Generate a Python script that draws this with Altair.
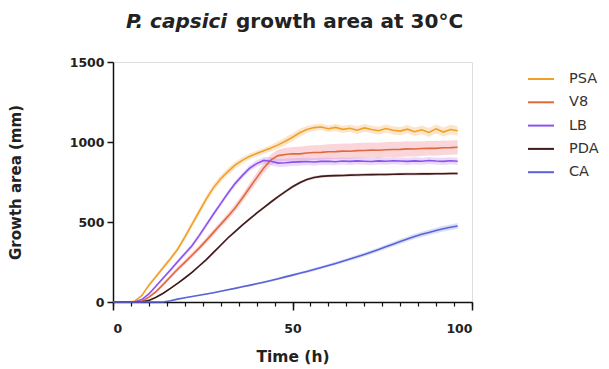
import altair as alt
import pandas as pd

hours = [0, 2, 4, 6, 8, 10, 12, 14, 16, 18, 20, 22, 24, 26, 28, 30, 32, 34, 36, 38,
         40, 42, 44, 46, 48, 50, 52, 54, 56, 58, 60, 62, 64, 66, 68, 70, 72, 74, 76, 78,
         80, 82, 84, 86, 88, 90, 92, 94, 96]

psa = [0, 0, 0, 5, 40, 105, 160, 215, 270, 330, 405, 485, 565, 645, 715, 770, 815, 855, 885, 910,
       928, 945, 962, 982, 1005, 1030, 1058, 1078, 1090, 1094, 1083, 1091, 1079, 1086, 1074, 1088, 1078, 1070, 1084, 1073,
       1068, 1080, 1064, 1076, 1060, 1082, 1062, 1078, 1070]
v8 = [0, 0, 0, 0, 5, 30, 65, 110, 158, 205, 248, 292, 337, 385, 435, 485, 535, 588, 648, 712,
      776, 838, 888, 915, 922, 927, 926, 931, 934, 935, 939, 940, 943, 942, 946, 947, 949, 948, 952, 953,
      954, 957, 956, 959, 961, 960, 964, 965, 967]
lb = [0, 0, 0, 0, 15, 50, 100, 150, 200, 252, 302, 352, 415, 482, 550, 615, 680, 740, 790, 835,
      865, 885, 880, 868, 870, 874, 876, 878, 875, 879, 880, 877, 881, 879, 882, 880, 878, 882, 880, 883,
      881, 879, 882, 880, 884, 881, 879, 883, 880]
pda = [0, 0, 0, 0, 0, 10, 30, 55, 85, 117, 150, 185, 225, 265, 310, 355, 400, 440, 480, 518,
       555, 590, 625, 658, 690, 720, 745, 765, 778, 785, 788, 790, 791, 793, 794, 795, 796, 797, 797, 798,
       799, 800, 800, 801, 801, 802, 802, 803, 803]
ca = [0, 0, 0, 0, 0, 0, 0, 0, 8, 18, 27, 34, 42, 50, 58, 67, 76, 85, 95, 104,
      114, 124, 134, 145, 157, 168, 180, 191, 203, 215, 228, 241, 255, 269, 283, 297, 312, 328, 345, 361,
      378, 394, 410, 423, 435, 447, 458, 467, 475]

psa_sd = [0, 0, 0, 2, 6, 10, 12, 14, 15, 16, 18, 20, 22, 22, 22, 22, 22, 22, 20, 18,
          18, 18, 20, 22, 25, 25, 25, 22, 20, 20, 20, 22, 22, 22, 24, 24, 24, 25, 25, 26,
          26, 26, 27, 27, 28, 28, 28, 30, 30]
v8_sd = [0, 0, 0, 0, 4, 8, 10, 12, 14, 15, 16, 17, 18, 18, 19, 20, 22, 24, 26, 28,
         30, 32, 34, 38, 40, 42, 44, 45, 46, 46, 47, 47, 48, 48, 48, 48, 48, 48, 48, 48,
         47, 47, 47, 46, 46, 46, 45, 45, 45]
lb_sd = [0, 0, 0, 0, 3, 6, 8, 10, 12, 13, 14, 15, 16, 16, 16, 16, 16, 16, 16, 18,
         20, 22, 25, 25, 25, 24, 24, 24, 23, 23, 23, 23, 22, 22, 22, 22, 22, 22, 22, 22,
         22, 22, 22, 22, 22, 22, 22, 22, 22]
pda_sd = [0, 0, 0, 0, 0, 3, 4, 5, 6, 6, 7, 7, 8, 8, 8, 8, 8, 8, 8, 8,
          8, 9, 9, 9, 9, 9, 9, 9, 9, 9, 9, 9, 9, 9, 9, 9, 9, 9, 9, 9,
          9, 9, 9, 9, 9, 9, 9, 9, 9]
ca_sd = [0, 0, 0, 0, 0, 0, 0, 0, 2, 3, 3, 4, 4, 4, 5, 5, 5, 5, 6, 6,
         6, 7, 7, 7, 8, 8, 8, 9, 9, 10, 10, 10, 11, 11, 12, 12, 13, 13, 14, 14,
         15, 15, 16, 16, 17, 17, 18, 18, 18]

series_names = ["PSA", "V8", "LB", "PDA", "CA"]
line_colors = ["#F0A028", "#DE6A3C", "#8A52EE", "#3E1A1A", "#5A62D8"]
band_colors = ["#F7B86A", "#F28A96", "#C693F5", "#B07575", "#9AA2F2"]
y_ticks = [0, 500, 1000, 1500]
x_major = [0, 50, 100]
x_minor = [0, 5, 10, 15, 20, 25, 30, 35, 40, 45, 50, 55, 60, 65, 70, 75, 80, 85, 90, 95, 100]
title_italic = "P. capsici"
title_rest = "growth area at 30°C"
x_title = "Time (h)"
y_title = "Growth area (mm)"

FONT = "DejaVu Sans"
W, H = 359, 240

all_vals = [psa, v8, lb, pda, ca]
all_sds = [psa_sd, v8_sd, lb_sd, pda_sd, ca_sd]
rows = []
for name, vals, sds in zip(series_names, all_vals, all_sds):
    assert len(vals) == len(hours), (name, len(vals))
    assert len(sds) == len(hours), (name + "_sd", len(sds))
    for t, v, s in zip(hours, vals, sds):
        rows.append({"series": name, "time": t, "value": v,
                     "lo": max(v - s, 0), "hi": v + s})
df = pd.DataFrame(rows)

x_scale = alt.Scale(domain=[0, 100], nice=False)
y_scale = alt.Scale(domain=[0, 1500], nice=False)

x_axis = alt.Axis(values=x_major, title=x_title, grid=False, format="d",
                  labelFont=FONT, labelFontSize=12.5, labelFontWeight="bold", labelColor="#222",
                  labelPadding=12, tickSize=8, tickWidth=1.5, tickColor="#111",
                  domainColor="#111", domainWidth=1.5,
                  titleFont=FONT, titleFontSize=15.5, titleFontWeight="bold", titleColor="#222",
                  titleX=W / 2, titleY=54, titleBaseline="middle")
y_axis = alt.Axis(values=y_ticks, title=y_title, grid=False, format="d",
                  labelFont=FONT, labelFontSize=12.5, labelFontWeight="bold", labelColor="#222",
                  labelPadding=3, tickSize=6, tickWidth=1.5, tickColor="#111",
                  domainColor="#111", domainWidth=1.5,
                  titleFont=FONT, titleFontSize=15, titleFontWeight="bold", titleColor="#222",
                  titleX=-98, titleY=H / 2, titleBaseline="middle", titleAlign="center")
minor_axis = alt.Axis(orient="bottom", values=x_minor, labels=False, title=None, domain=False,
                      grid=False, tickSize=4, tickWidth=1.2, tickColor="#111")

band = alt.Chart(df).mark_area(opacity=0.35).encode(
    x=alt.X("time:Q", scale=x_scale, axis=x_axis),
    y=alt.Y("lo:Q", scale=y_scale, axis=y_axis),
    y2="hi:Q",
    color=alt.Color("series:N", scale=alt.Scale(domain=series_names, range=band_colors), legend=None),
)

lines = alt.Chart(df).mark_line(strokeWidth=1.6).encode(
    x=alt.X("time:Q", scale=x_scale, axis=None),
    y=alt.Y("value:Q", scale=y_scale, axis=None),
    color=alt.Color("series:N", scale=alt.Scale(domain=series_names, range=line_colors),
                    legend=alt.Legend(title=None, orient="none", legendX=414, legendY=3,
                                      symbolType="stroke", symbolSize=676, symbolStrokeWidth=2,
                                      labelFont=FONT, labelFontSize=14.5, labelColor="#333",
                                      labelOffset=14, padding=0, rowPadding=2.3)),
    order=alt.Order("time:Q"),
)

minor = alt.Chart(df).mark_line(opacity=0).encode(
    x=alt.X("time:Q", scale=x_scale, axis=minor_axis),
    y=alt.Y("value:Q", scale=y_scale, axis=None),
    detail="series:N",
)

t1 = alt.Chart(pd.DataFrame({"t": [title_italic]})).mark_text(
    font=FONT, fontSize=20, fontWeight="bold", fontStyle="italic",
    align="left", baseline="middle", color="#222").encode(
    text="t:N", x=alt.value(13), y=alt.value(-40))
t2 = alt.Chart(pd.DataFrame({"t": [title_rest]})).mark_text(
    font=FONT, fontSize=20, fontWeight="bold",
    align="left", baseline="middle", color="#222").encode(
    text="t:N", x=alt.value(123), y=alt.value(-40))

chart = alt.layer(band, lines, minor, t1, t2).resolve_scale(
    color="independent").resolve_axis(x="independent", y="independent").properties(
    width=W, height=H,
    autosize=alt.AutoSizeParams(type="none"),
    padding={"left": 105, "top": 54, "right": 129, "bottom": 68},
).configure_view(stroke=None).configure(background="white")

chart.save("out.html", embed_options={"renderer": "svg", "actions": False})
